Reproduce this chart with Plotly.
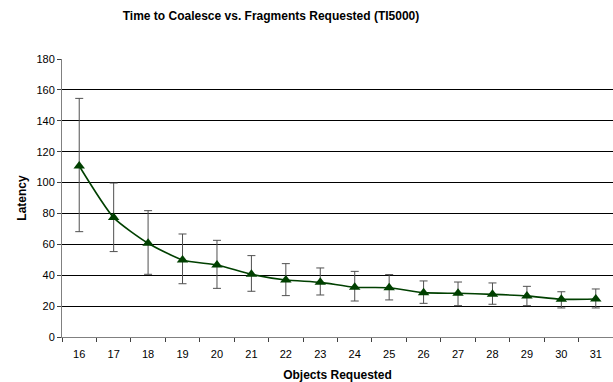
import plotly.graph_objects as go

categories = [str(v) for v in range(16, 32)]
latency = [110.7, 77.3, 60.7, 49.9, 46.6, 40.6, 36.9, 35.4, 32.2, 31.9, 28.7, 28.3, 27.6, 26.6, 24.4, 24.6]
err_high = [154.5, 99.7, 81.8, 66.7, 62.6, 52.7, 47.5, 44.7, 42.5, 40.4, 36.3, 35.6, 35.0, 32.8, 29.3, 31.1]
err_low = [68.2, 55.3, 40.6, 34.5, 31.5, 29.6, 26.8, 27.2, 23.3, 24.0, 21.8, 20.3, 21.2, 20.3, 18.8, 18.8]

plus = [h - v for h, v in zip(err_high, latency)]
minus = [v - l for v, l in zip(latency, err_low)]

font = "Liberation Sans, Arial, sans-serif"

fig = go.Figure()
fig.add_trace(go.Scatter(
    x=categories, y=latency, mode="lines+markers",
    line=dict(color="#004000", width=1.6, shape="spline", smoothing=0.6),
    marker=dict(symbol="triangle-up", size=10, color="#004000"),
    error_y=dict(type="data", symmetric=False, array=plus, arrayminus=minus,
                 color="#505050", thickness=1, width=4),
    showlegend=False,
))

fig.update_layout(
    width=613, height=382,
    margin=dict(l=62, r=0, t=59, b=45),
    paper_bgcolor="white", plot_bgcolor="white",
    font=dict(family=font, size=11, color="black"),
    title=dict(text="<b>Time to Coalesce vs. Fragments Requested (TI5000)</b>",
               x=271 / 613, xanchor="center", y=1 - 16 / 382, yanchor="middle",
               font=dict(family=font, size=12, color="black")),
    xaxis=dict(type="category", tickson="boundaries", ticks="outside", ticklen=4,
               tickcolor="#404040", showline=True, linecolor="#808080", linewidth=1,
               showgrid=False, range=[-0.5, 15.5], tickfont=dict(size=11),
               ticklabelstandoff=7,
               title=dict(text="<b>Objects Requested</b>", font=dict(size=12), standoff=11)),
    yaxis=dict(range=[0, 180], dtick=20, ticks="outside", ticklen=4, tickcolor="#404040",
               showline=True, linecolor="#808080", linewidth=1,
               showgrid=True, gridcolor="black", gridwidth=1, zeroline=False,
               tickfont=dict(size=11),
               title=dict(text="<b>Latency</b>", font=dict(size=12), standoff=7)),
)

fig.write_html("out.html")
